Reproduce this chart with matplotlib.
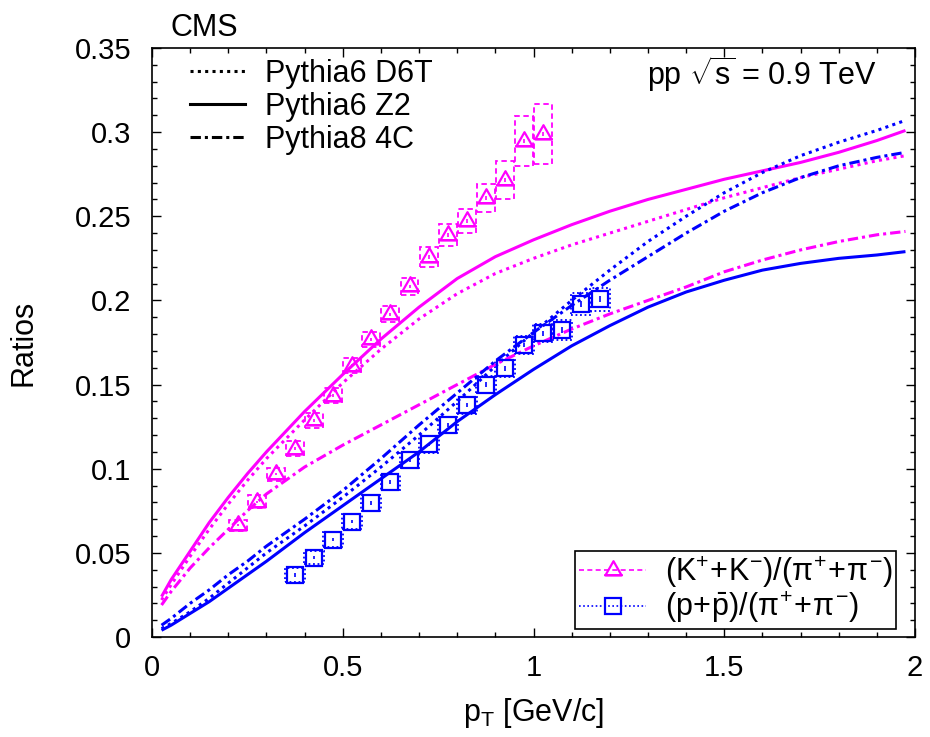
import matplotlib
matplotlib.use('Agg')
import matplotlib.pyplot as plt
from matplotlib.path import Path
from matplotlib.patches import Rectangle
from matplotlib.lines import Line2D
from matplotlib.ticker import MultipleLocator, FormatStrFormatter

plt.rcParams['font.family'] = ['Liberation Sans', 'DejaVu Sans']
plt.rcParams['mathtext.fontset'] = 'custom'
plt.rcParams['mathtext.rm'] = 'Liberation Sans'
plt.rcParams['mathtext.it'] = 'Liberation Sans'
plt.rcParams['mathtext.sf'] = 'Liberation Sans'
plt.rcParams['mathtext.bf'] = 'Liberation Sans:bold'

# ---------------- data ----------------
pt_k = [0.225, 0.275, 0.325, 0.375, 0.425, 0.475, 0.525, 0.575, 0.625,
        0.675, 0.725, 0.775, 0.825, 0.875, 0.925, 0.975, 1.025]
kpi = [0.0663, 0.0805, 0.0966, 0.1120, 0.1287, 0.1435, 0.1613, 0.1768, 0.1919,
       0.2083, 0.2258, 0.2389, 0.2472, 0.2609, 0.2716, 0.2947, 0.2989]
kpi_stat = [0.0006, 0.0006, 0.0006, 0.0007, 0.0007, 0.0007, 0.0008, 0.0008, 0.0009,
            0.0009, 0.0010, 0.0010, 0.0011, 0.0011, 0.0012, 0.0013, 0.0014]
kpi_sys = [0.0035, 0.0038, 0.0040, 0.0042, 0.0044, 0.0045, 0.0045, 0.0045, 0.0048,
           0.0050, 0.0059, 0.0065, 0.0071, 0.0083, 0.0113, 0.0149, 0.0178]

pt_p = [0.375, 0.425, 0.475, 0.525, 0.575, 0.625, 0.675, 0.725, 0.775,
        0.825, 0.875, 0.925, 0.975, 1.025, 1.075, 1.125, 1.175]
ppi = [0.0368, 0.0472, 0.0579, 0.0686, 0.0796, 0.0921, 0.1052, 0.1144, 0.1260,
       0.1376, 0.1500, 0.1596, 0.1735, 0.1806, 0.1824, 0.1978, 0.2006]
ppi_stat = [0.0010, 0.0010, 0.0010, 0.0010, 0.0010, 0.0010, 0.0011, 0.0011, 0.0012,
            0.0012, 0.0013, 0.0013, 0.0014, 0.0015, 0.0016, 0.0017, 0.0018]
ppi_sys = [0.0040, 0.0040, 0.0042, 0.0044, 0.0045, 0.0046, 0.0047, 0.0048, 0.0049,
           0.0050, 0.0051, 0.0052, 0.0053, 0.0055, 0.0057, 0.0065, 0.0066]

model_pt = [0.025, 0.05, 0.1, 0.15, 0.2, 0.25, 0.3, 0.4, 0.5, 0.6, 0.7, 0.8, 0.9, 1.0,
            1.1, 1.2, 1.3, 1.4, 1.5, 1.6, 1.7, 1.8, 1.9, 1.975]
kpi_z2 = [0.024, 0.034, 0.051, 0.068, 0.083, 0.097, 0.110, 0.134, 0.156, 0.177, 0.196,
          0.213, 0.226, 0.236, 0.245, 0.253, 0.260, 0.266, 0.272, 0.277, 0.282,
          0.288, 0.295, 0.301]
kpi_d6t = [0.022, 0.031, 0.048, 0.064, 0.079, 0.093, 0.106, 0.129, 0.151, 0.171, 0.189,
           0.204, 0.216, 0.225, 0.233, 0.240, 0.247, 0.254, 0.261, 0.267, 0.273,
           0.278, 0.283, 0.286]
kpi_4c = [0.019, 0.027, 0.041, 0.053, 0.064, 0.075, 0.085, 0.101, 0.114, 0.126, 0.138,
          0.150, 0.162, 0.173, 0.183, 0.192, 0.200, 0.208, 0.217, 0.224, 0.230,
          0.235, 0.239, 0.241]
ppi_z2 = [0.004, 0.007, 0.014, 0.021, 0.029, 0.037, 0.045, 0.062, 0.078, 0.094, 0.110,
          0.128, 0.144, 0.159, 0.173, 0.185, 0.196, 0.205, 0.212, 0.218, 0.222,
          0.225, 0.227, 0.229]
ppi_d6t = [0.005, 0.008, 0.015, 0.023, 0.032, 0.041, 0.050, 0.066, 0.083, 0.101, 0.120,
           0.140, 0.161, 0.181, 0.200, 0.218, 0.235, 0.250, 0.264, 0.276, 0.286,
           0.294, 0.301, 0.307]
ppi_4c = [0.007, 0.011, 0.020, 0.028, 0.037, 0.045, 0.054, 0.070, 0.087, 0.106, 0.126,
          0.145, 0.164, 0.181, 0.197, 0.212, 0.226, 0.240, 0.253, 0.264, 0.273,
          0.280, 0.285, 0.288]

model_labels = ['Pythia6 D6T', 'Pythia6 Z2', 'Pythia8 4C']
data_labels = [r'$(\mathrm{K}^{+}\!+\!\mathrm{K}^{-})/(\pi^{+}\!+\!\pi^{-})$',
               r'$(\mathrm{p}\!+\!\bar{\mathrm{p}})/(\pi^{+}\!+\!\pi^{-})$']
xticks = [0, 0.5, 1, 1.5, 2]
yticks = [0, 0.05, 0.1, 0.15, 0.2, 0.25, 0.3, 0.35]

# ---------------- style ----------------
MAG = '#ff00ff'
BLU = '#0000ff'
LW = 2.2
DOT = (0, (1.0, 1.4))
DASHDOT = (0, (3.4, 1.3, 1.0, 1.3))
FS = 22

fig = plt.figure(figsize=(9.3, 7.37), dpi=100)
ax = fig.add_axes([152 / 930, 100 / 737, 763 / 930, 589 / 737])

# model curves
for y, col in ((kpi_z2, MAG), (ppi_z2, BLU)):
    ax.plot(model_pt, y, color=col, lw=LW, ls='-', solid_capstyle='butt',
            solid_joinstyle='round')
for y, col in ((kpi_d6t, MAG), (ppi_d6t, BLU)):
    ax.plot(model_pt, y, color=col, lw=LW, ls=DOT, dash_capstyle='butt')
for y, col in ((kpi_4c, MAG), (ppi_4c, BLU)):
    ax.plot(model_pt, y, color=col, lw=LW, ls=DASHDOT, dash_capstyle='butt')

# systematic boxes
for x, y, s in zip(pt_k, kpi, kpi_sys):
    ax.add_patch(Rectangle((x - 0.0235, y - s), 0.047, 2 * s, fill=False,
                           edgecolor=MAG, lw=1.3, ls=(0, (3, 2))))
for x, y, s in zip(pt_p, ppi, ppi_sys):
    ax.add_patch(Rectangle((x - 0.026, y - s), 0.052, 2 * s, fill=False,
                           edgecolor=BLU, lw=1.3, ls=(0, (1, 1.5))))

# triangle marker with base bar (centroid at data point)
tri = Path([(-8.0, -4.7), (8.0, -4.7), (0.0, 9.3), (-8.0, -4.7),
            (-9.0, -4.7), (9.0, -4.7)],
           [Path.MOVETO, Path.LINETO, Path.LINETO, Path.CLOSEPOLY,
            Path.MOVETO, Path.LINETO])

ax.errorbar(pt_k, kpi, yerr=kpi_stat, fmt='none', ecolor=MAG, elinewidth=1.2, capsize=0)
ax.plot(pt_k, kpi, ls='none', marker=tri, ms=13.4, mfc='none', mec=MAG, mew=1.6)
ax.errorbar(pt_p, ppi, yerr=ppi_stat, fmt='none', ecolor=BLU, elinewidth=1.2, capsize=0)
ax.plot(pt_p, ppi, ls='none', marker='s', ms=11.8, mfc='none', mec=BLU, mew=1.6)

# axes
ax.set_xlim(0, 2)
ax.set_ylim(0, 0.35)
ax.set_xticks(xticks)
ax.set_yticks(yticks)
ax.xaxis.set_major_formatter(FormatStrFormatter('%g'))
ax.yaxis.set_major_formatter(FormatStrFormatter('%g'))
ax.xaxis.set_minor_locator(MultipleLocator(0.1))
ax.yaxis.set_minor_locator(MultipleLocator(0.01))
ax.tick_params(which='both', direction='in', top=True, right=True, width=1.0)
ax.tick_params(which='major', length=6.5, labelsize=21)
ax.tick_params(axis='x', which='major', pad=12)
ax.tick_params(axis='y', which='major', pad=15)
ax.tick_params(which='minor', length=3.5)
for sp in ax.spines.values():
    sp.set_linewidth(1.2)

ax.set_xlabel(r'p$_{\mathrm{T}}$ [GeV/c]', fontsize=FS, labelpad=10)
ax.set_ylabel('Ratios', fontsize=FS, labelpad=26)

ax.text(0.024, 1.008, 'CMS', transform=ax.transAxes, fontsize=FS, ha='left', va='bottom')
ax.text(0.95, 0.955, r'pp $\sqrt{\mathrm{s}}$ = 0.9 TeV', transform=ax.transAxes,
        fontsize=FS, ha='right', va='center')

# model legend
mh = [Line2D([], [], color='k', lw=LW, ls=DOT, dash_capstyle='butt'),
      Line2D([], [], color='k', lw=LW, ls='-'),
      Line2D([], [], color='k', lw=LW, ls=DASHDOT, dash_capstyle='butt')]
leg1 = ax.legend(mh, model_labels, loc='upper left', bbox_to_anchor=(0.050, 0.982),
                 frameon=False, fontsize=FS, handlelength=1.8, handletextpad=0.65,
                 labelspacing=0.1, borderpad=0, borderaxespad=0)
ax.add_artist(leg1)

# data legend
dh = [Line2D([], [], color=MAG, lw=1.2, ls=(0, (3, 2)), marker=tri, ms=13.4,
             mfc='none', mec=MAG, mew=1.6),
      Line2D([], [], color=BLU, lw=1.2, ls=(0, (1, 1.5)), marker='s', ms=11.8,
             mfc='none', mec=BLU, mew=1.6)]
leg2 = ax.legend(dh, data_labels, loc='lower right', bbox_to_anchor=(0.975, 0.0136),
                 frameon=True, fancybox=False, fontsize=FS, handlelength=2.2,
                 handletextpad=0.6, labelspacing=0.0, borderpad=0.12,
                 borderaxespad=0, numpoints=1, framealpha=1)
leg2.get_frame().set_edgecolor('k')
leg2.get_frame().set_linewidth(1.2)

fig.savefig('out.png', dpi=100)
